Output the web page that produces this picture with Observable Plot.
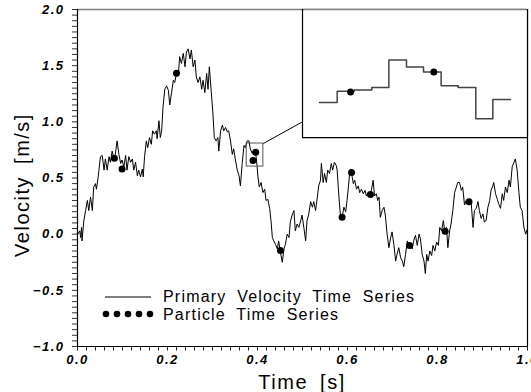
<!DOCTYPE html>
<html><head><meta charset="utf-8">
<script src="https://cdn.jsdelivr.net/npm/d3@7"></script>
<script src="https://cdn.jsdelivr.net/npm/@observablehq/plot@0.6"></script>
<style>
body{margin:0;background:#fff;}
#chart{position:relative;width:531px;height:392px;overflow:hidden;background:#fff;}
#chart > svg{position:absolute;left:0;top:0;}
#chart g[aria-label="x-axis tick label"] text,
#chart g[aria-label="y-axis tick label"] text{font-family:"Liberation Sans",Arial,sans-serif;font-style:italic;font-weight:bold;font-size:13px;letter-spacing:1.5px;}
</style></head><body><div id="chart"></div>
<script>
// ---- data ----
const time = [0.001,0.005,0.007,0.009,0.010,0.014,0.018,0.022,0.025,0.029,0.033,0.036,0.040,0.042,0.046,0.051,0.055,0.059,0.062,0.066,0.070,0.073,0.077,0.081,0.084,0.088,0.092,0.096,0.099,0.103,0.107,0.110,0.114,0.118,0.122,0.125,0.129,0.133,0.136,0.140,0.144,0.146,0.149,0.153,0.156,0.160,0.164,0.167,0.171,0.175,0.177,0.181,0.184,0.187,0.190,0.194,0.198,0.202,0.205,0.209,0.213,0.216,0.220,0.224,0.227,0.231,0.235,0.239,0.242,0.246,0.250,0.253,0.257,0.261,0.264,0.268,0.272,0.276,0.279,0.283,0.287,0.290,0.293,0.297,0.301,0.304,0.308,0.312,0.314,0.318,0.322,0.325,0.329,0.333,0.336,0.340,0.344,0.347,0.351,0.355,0.359,0.362,0.366,0.370,0.373,0.377,0.381,0.384,0.388,0.392,0.396,0.399,0.401,0.404,0.408,0.412,0.416,0.419,0.423,0.427,0.430,0.433,0.436,0.440,0.444,0.447,0.451,0.455,0.459,0.462,0.466,0.470,0.473,0.477,0.481,0.484,0.488,0.492,0.496,0.499,0.503,0.507,0.510,0.514,0.518,0.522,0.525,0.529,0.533,0.536,0.540,0.542,0.546,0.549,0.553,0.556,0.560,0.564,0.567,0.571,0.575,0.577,0.581,0.584,0.588,0.592,0.596,0.599,0.602,0.605,0.609,0.613,0.616,0.620,0.624,0.627,0.631,0.635,0.639,0.642,0.646,0.650,0.653,0.657,0.660,0.664,0.667,0.670,0.673,0.677,0.681,0.684,0.688,0.692,0.696,0.699,0.703,0.707,0.710,0.714,0.718,0.722,0.725,0.729,0.733,0.736,0.740,0.744,0.747,0.751,0.755,0.759,0.762,0.766,0.770,0.773,0.776,0.779,0.783,0.787,0.790,0.794,0.798,0.802,0.805,0.809,0.813,0.816,0.820,0.823,0.827,0.830,0.834,0.838,0.842,0.845,0.849,0.853,0.856,0.860,0.864,0.867,0.871,0.875,0.879,0.882,0.886,0.890,0.893,0.897,0.901,0.904,0.908,0.912,0.916,0.919,0.923,0.925,0.929,0.933,0.936,0.940,0.944,0.947,0.951,0.955,0.959,0.962,0.966,0.970,0.973,0.977,0.981,0.984,0.988,0.992,0.996,1.000];
const velocity = [0.00,0.03,-0.03,0.06,-0.06,0.12,0.21,0.30,0.21,0.33,0.21,0.42,0.45,0.40,0.51,0.69,0.70,0.57,0.67,0.57,0.69,0.64,0.74,0.67,0.71,0.83,0.71,0.63,0.66,0.60,0.70,0.57,0.69,0.64,0.67,0.57,0.64,0.52,0.57,0.51,0.58,0.51,0.69,0.83,0.77,0.86,0.80,0.92,0.89,0.92,0.85,1.01,0.86,0.92,1.13,1.29,1.32,1.28,1.15,1.26,1.37,1.35,1.43,1.41,1.58,1.52,1.61,1.49,1.62,1.65,1.56,1.64,1.49,1.55,1.40,1.35,1.40,1.29,1.37,1.26,1.43,1.29,1.49,1.28,1.07,0.86,0.83,0.86,0.74,0.92,0.97,0.92,0.95,0.91,0.92,0.83,0.71,0.76,0.66,0.57,0.52,0.43,0.63,0.79,0.77,0.83,0.83,0.76,0.72,0.75,0.72,0.61,0.51,0.42,0.46,0.37,0.40,0.30,0.31,0.23,0.12,-0.03,-0.06,-0.09,-0.13,-0.06,-0.16,-0.25,-0.13,-0.09,0.00,-0.03,0.11,0.17,0.21,0.03,0.09,0.06,0.12,0.17,0.06,-0.06,0.12,0.18,0.29,0.24,0.29,0.21,0.33,0.43,0.48,0.63,0.46,0.54,0.46,0.57,0.54,0.63,0.57,0.64,0.61,0.57,0.33,0.18,0.15,0.24,0.20,0.30,0.42,0.55,0.54,0.45,0.48,0.40,0.43,0.37,0.40,0.36,0.39,0.34,0.37,0.34,0.39,0.48,0.34,0.36,0.30,0.33,0.15,0.21,0.24,0.17,0.00,-0.12,-0.03,0.02,-0.09,-0.24,-0.18,-0.12,-0.21,-0.24,-0.29,-0.18,-0.06,-0.10,-0.09,-0.13,-0.06,-0.01,-0.10,0.00,-0.04,-0.18,-0.24,-0.35,-0.18,-0.24,-0.15,-0.19,-0.10,-0.15,-0.07,-0.10,0.06,0.03,0.12,0.03,0.06,-0.12,0.03,0.09,0.21,0.37,0.42,0.46,0.46,0.39,0.42,0.26,0.30,0.29,0.30,0.27,0.06,0.21,0.23,0.29,0.21,0.14,0.18,0.11,0.12,0.24,0.30,0.39,0.43,0.46,0.36,0.31,0.27,0.23,0.36,0.30,0.42,0.37,0.48,0.42,0.60,0.64,0.67,0.57,0.37,0.24,0.21,0.06,0.00,0.05];
const particleTime = [0.082,0.099,0.220,0.390,0.396,0.451,0.588,0.609,0.651,0.738,0.817,0.870];
const particleVelocity = [0.676,0.581,1.433,0.655,0.729,-0.146,0.151,0.550,0.353,-0.100,0.025,0.288];
// inset: zoomed, discretely sampled primary series (step) and particles
const insetTime = [0.3788,0.3817,0.3845,0.3874,0.3902,0.3931,0.3959,0.3988,0.4016,0.4045,0.4073,0.4102];
const insetVelocity = [0.658,0.676,0.678,0.682,0.726,0.715,0.707,0.685,0.682,0.632,0.663,0.663];
const insetParticleTime = [0.3839,0.3976];
const insetParticleVelocity = [0.675,0.707];
const xTickLabels = [0,0.2,0.4,0.6,0.8,1.0];
const yTickLabels = [-1,-0.5,0,0.5,1,1.5,2];
const zoomBox = {t0:0.376, t1:0.413, v0:0.602, v1:0.807};
const insetArea = {t0:0.5, t1:1.0, v0:0.86, v1:2.0};
const connectorEnd = {t:0.5, v:1.0};
const xLabel = "Time [s]";
const yLabel = "Velocity [m/s]";
const legendLabels = ["Primary Velocity Time Series", "Particle Time Series"];

// ---- build ----
const series = time.map((t,i)=>({t, v: velocity[i]}));
const particles = particleTime.map((t,i)=>({t, v: particleVelocity[i]}));
const insetSeries = insetTime.map((t,i)=>({t, v: insetVelocity[i]}));
const insetParticles = insetParticleTime.map((t,i)=>({t, v: insetParticleVelocity[i]}));
const fmt = d3.format(".1f");
const near = (arr, d) => arr.some(l => Math.abs(l - d) < 1e-9);
const xTicks = d3.range(0, 51).map(i => i / 50);
const yTicks = d3.range(0, 61).map(i => -1 + i / 20);
const FONT = '"Liberation Sans", Arial, sans-serif';

const main = Plot.plot({
  width: 531, height: 392,
  marginLeft: 77, marginRight: 4, marginTop: 9, marginBottom: 46,
  x: {domain: [0, 1]},
  y: {domain: [-1, 2]},
  style: {fontFamily: FONT, background: "transparent", overflow: "visible"},
  marks: [
    Plot.axisX(xTicks, {tickSize: 4.5, tickPadding: 4, stroke: "#222", label: null,
      tickFormat: d => near(xTickLabels, d) ? fmt(d) : "",
      fontSize: 13, fontStyle: "italic", fontWeight: "bold", fill: "#000"}),
    Plot.axisY(yTicks, {tickSize: 5, tickPadding: 8, stroke: "#333", label: null,
      tickFormat: d => near(yTickLabels, d) ? fmt(d) : "",
      fontSize: 13, fontStyle: "italic", fontWeight: "bold", fill: "#000"}),
    Plot.ruleY([2], {stroke: "#808080", strokeWidth: 1.5}),
    Plot.ruleX([0], {stroke: "#000", strokeWidth: 1.2}),
    Plot.ruleX([1], {stroke: "#000", strokeWidth: 1.2}),
    Plot.ruleY([-1], {stroke: "#000", strokeWidth: 1.2}),
    Plot.line(series, {x: "t", y: "v", stroke: "#000", strokeWidth: 1}),
    Plot.rect([zoomBox], {x1: "t0", x2: "t1", y1: "v0", y2: "v1", fill: "none", stroke: "#555", strokeWidth: 1}),
    Plot.link([zoomBox], {x1: "t1", y1: "v1", x2: () => connectorEnd.t, y2: () => connectorEnd.v, stroke: "#000", strokeWidth: 1}),
    Plot.dot(particles, {x: "t", y: "v", r: 3.5, fill: "#000", stroke: null})
  ]
});
const chart = document.getElementById("chart");
chart.appendChild(main);

// titles and legend (layout only)
const svg = d3.select(main);
svg.append("text").attr("transform", "translate(29,185) rotate(-90)")
  .attr("text-anchor", "middle").attr("font-family", FONT).attr("font-size", 20)
  .style("letter-spacing", "1.5px").style("word-spacing", "5px").attr("fill", "#000").text(yLabel);
svg.append("text").attr("x", 302).attr("y", 389)
  .attr("text-anchor", "middle").attr("font-family", FONT).attr("font-size", 20)
  .style("letter-spacing", "1.5px").style("word-spacing", "5px").attr("fill", "#000").text(xLabel);
const lg = svg.append("g");
lg.append("line").attr("x1", 105).attr("x2", 151).attr("y1", 297).attr("y2", 297).attr("stroke", "#000").attr("stroke-width", 1);
lg.selectAll("circle").data([0,1,2,3,4]).join("circle")
  .attr("cx", i => 106 + i * 11).attr("cy", 314).attr("r", 3.3).attr("fill", "#000");
lg.selectAll("text").data(legendLabels).join("text")
  .attr("x", 163).attr("y", (d, i) => 302 + i * 18).attr("text-anchor", "start")
  .attr("font-family", FONT).attr("font-size", 16).attr("fill", "#000")
  .style("letter-spacing", "1.2px").style("word-spacing", "5px").text(d => d);

// inset
const xs = main.scale("x"), ys = main.scale("y");
const insetLeft = xs.apply(insetArea.t0), insetRight = xs.apply(insetArea.t1);
const insetTop = ys.apply(insetArea.v1), insetBottom = ys.apply(insetArea.v0);
const inset = Plot.plot({
  width: insetRight - insetLeft, height: insetBottom - insetTop, margin: 0,
  x: {domain: [zoomBox.t0, zoomBox.t1], axis: null},
  y: {domain: [zoomBox.v0, zoomBox.v1], axis: null},
  style: {background: "#fff", overflow: "visible"},
  marks: [
    Plot.ruleY([zoomBox.v1], {stroke: "#808080", strokeWidth: 1.5}),
    Plot.ruleY([zoomBox.v0], {stroke: "#000", strokeWidth: 1.2}),
    Plot.ruleX([zoomBox.t0], {stroke: "#000", strokeWidth: 1.2}),
    Plot.ruleX([zoomBox.t1], {stroke: "#000", strokeWidth: 1.2}),
    Plot.line(insetSeries, {x: "t", y: "v", curve: "step-after", stroke: "#444", strokeWidth: 1.5}),
    Plot.dot(insetParticles, {x: "t", y: "v", r: 3.5, fill: "#000", stroke: null})
  ]
});
inset.style.position = "absolute";
inset.style.left = insetLeft + "px";
inset.style.top = insetTop + "px";
chart.appendChild(inset);
</script>
</body></html>
